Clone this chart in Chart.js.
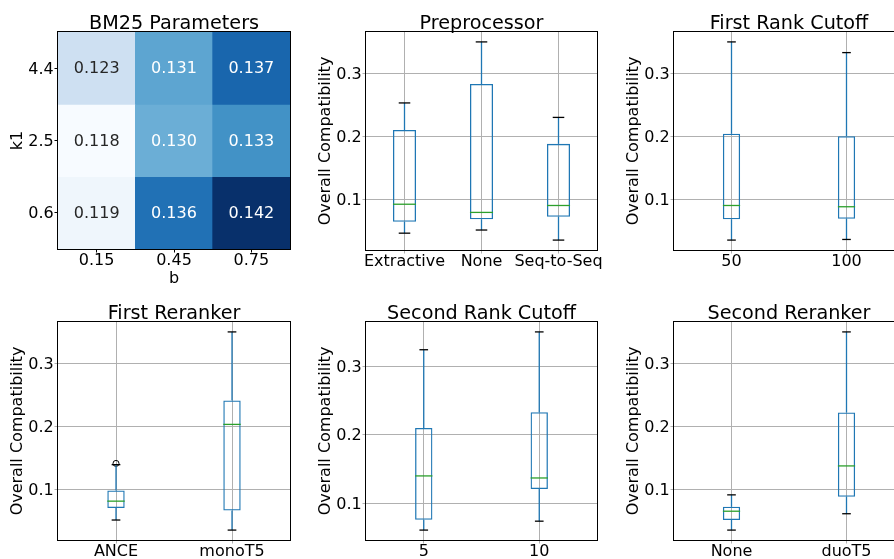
<!DOCTYPE html>
<html>
<head>
<meta charset="utf-8">
<script src="https://cdn.jsdelivr.net/npm/chart.js@4.4.0/dist/chart.umd.min.js"></script>
<style>
html, body { margin: 0; padding: 0; background: #fff; overflow: hidden; width: 894px; height: 559px; }
canvas { position: absolute; }
</style>
</head>
<body>
<script>
/* datos */

const bValues = ['0.15', '0.45', '0.75'];
const k1Values = ['4.4', '2.5', '0.6'];
const bm25Scores = [
    [0.123, 0.131, 0.137],
    [0.118, 0.130, 0.133],
    [0.119, 0.136, 0.142]
];

// each box: [low whisker, q1, median, q3, high whisker]
const prepLabels = ['Extractive', 'None', 'Seq-to-Seq'];
const prepStats = [
    [0.046, 0.064, 0.092, 0.210, 0.253],
    [0.051, 0.068, 0.079, 0.283, 0.350],
    [0.035, 0.072, 0.090, 0.188, 0.230]
];

const rank1Labels = ['50', '100'];
const rank1Stats = [
    [0.035, 0.068, 0.090, 0.204, 0.350],
    [0.036, 0.069, 0.088, 0.200, 0.333]
];

const rerank1Labels = ['ANCE', 'monoT5'];
const rerank1Stats = [
    [0.051, 0.070, 0.081, 0.098, 0.139],
    [0.035, 0.066, 0.203, 0.241, 0.350]
];
const rerank1Outliers = [0.141, null];

const rank2Labels = ['5', '10'];
const rank2Stats = [
    [0.061, 0.076, 0.140, 0.210, 0.324],
    [0.074, 0.121, 0.137, 0.233, 0.350]
];

const rerank2Labels = ['None', 'duoT5'];
const rerank2Stats = [
    [0.035, 0.051, 0.065, 0.072, 0.091],
    [0.061, 0.088, 0.137, 0.222, 0.350]
];

const yTicks = [0.1, 0.2, 0.3];


/* estilos */

Chart.defaults.font.family = 'DejaVu Sans';
Chart.defaults.color = '#000';

const FS = 16;
const boxBlue = '#1f77b4';
const medGreen = '#2ca02c';
const gridGray = '#b0b0b0';

const blues = [[247,251,255],[222,235,247],[198,219,239],[158,202,225],[107,174,214],[66,146,198],[33,113,181],[8,81,156],[8,48,107]];

function bluesRGB(t) {
    t = Math.max(0, Math.min(1, t));
    const p = t * 8;
    const i = Math.min(7, Math.floor(p));
    const f = p - i;
    return blues[i].map((c, k) => Math.round(c + (blues[i + 1][k] - c) * f));
}

function luminance(rgb) {
    const lin = rgb.map(c => {
        c = c / 255;
        return c <= 0.03928 ? c / 12.92 : Math.pow((c + 0.055) / 1.055, 2.4);
    });
    return 0.2126 * lin[0] + 0.7152 * lin[1] + 0.0722 * lin[2];
}


/* plugins */

const framePlugin = {
    id: 'frame',
    afterDraw(chart) {
        const a = chart.chartArea, c = chart.ctx;
        c.save();
        c.strokeStyle = '#000';
        c.lineWidth = 1;
        c.strokeRect(Math.round(a.left) - 0.5, Math.round(a.top) - 0.5,
            Math.round(a.right - a.left) + 1, Math.round(a.bottom - a.top) + 1);
        c.restore();
    }
};

const titlePlugin = {
    id: 'panelTitle',
    afterDraw(chart, args, opts) {
        const a = chart.chartArea, c = chart.ctx;
        c.save();
        c.font = (FS * 1.2) + 'px "DejaVu Sans"';
        c.fillStyle = '#000';
        c.textAlign = 'center';
        c.textBaseline = 'alphabetic';
        c.fillText(opts.text, (a.left + a.right) / 2, a.top - 3);
        c.restore();
    }
};

const whiskerPlugin = {
    id: 'whiskers',
    afterDatasetsDraw(chart, args, opts) {
        if (!opts.stats) return;
        const y = chart.scales.y, meta = chart.getDatasetMeta(0), c = chart.ctx;
        function line(x1, y1, x2, y2, col) {
            c.strokeStyle = col;
            c.beginPath();
            c.moveTo(x1, y1);
            c.lineTo(x2, y2);
            c.stroke();
        }
        c.save();
        c.lineWidth = 1.3;
        opts.stats.forEach((s, i) => {
            const bar = meta.data[i];
            const x = bar.x, hw = bar.width / 2;
            const pMin = y.getPixelForValue(s[0]), pQ1 = y.getPixelForValue(s[1]);
            const pMed = y.getPixelForValue(s[2]), pQ3 = y.getPixelForValue(s[3]);
            const pMax = y.getPixelForValue(s[4]);
            line(x, pQ1, x, pMin, boxBlue);
            line(x, pQ3, x, pMax, boxBlue);
            line(x - hw / 2, pMin, x + hw / 2, pMin, '#000');
            line(x - hw / 2, pMax, x + hw / 2, pMax, '#000');
            line(x - hw, pMed, x + hw, pMed, medGreen);
        });
        c.restore();
    }
};

const cellTextPlugin = {
    id: 'cellText',
    afterDatasetsDraw(chart, args, opts) {
        if (!opts.scores) return;
        const c = chart.ctx;
        c.save();
        c.font = FS + 'px "DejaVu Sans"';
        c.textAlign = 'center';
        c.textBaseline = 'middle';
        opts.scores.forEach((row, r) => {
            const meta = chart.getDatasetMeta(r);
            row.forEach((v, j) => {
                const el = meta.data[j];
                const rgb = bluesRGB((v - opts.lo) / (opts.hi - opts.lo));
                c.fillStyle = luminance(rgb) > 0.408 ? '#262626' : '#fff';
                c.fillText(v.toFixed(3), el.x, (el.y + el.base) / 2 + 1);
            });
        });
        c.restore();
    }
};


/* paneles */

function makeCanvas(L, T, R, B) {
    const cv = document.createElement('canvas');
    cv.width = R - L + 72;
    cv.height = B - T + 72;
    cv.style.left = (L - 60) + 'px';
    cv.style.top = (T - 32) + 'px';
    document.body.appendChild(cv);
    return cv;
}

const baseOptions = {
    responsive: false,
    animation: false,
    devicePixelRatio: 1,
    layout: { padding: { top: 32, left: 0, right: 12, bottom: 0 } },
};

function heatmap(L, T, R, B) {
    const all = bm25Scores.flat();
    const lo = Math.min(...all), hi = Math.max(...all);
    const datasets = bm25Scores.map((row, r) => ({
        data: row.map(() => [r, r + 1]),
        backgroundColor: row.map(v => 'rgb(' + bluesRGB((v - lo) / (hi - lo)).join(',') + ')'),
        borderWidth: 0,
        barPercentage: 1,
        categoryPercentage: 1,
        grouped: false
    }));
    new Chart(makeCanvas(L, T, R, B), {
        type: 'bar',
        data: { labels: bValues, datasets: datasets },
        options: Object.assign({}, baseOptions, {
            plugins: {
                legend: { display: false },
                tooltip: { enabled: false },
                panelTitle: { text: 'BM25 Parameters' },
                cellText: { scores: bm25Scores, lo: lo, hi: hi }
            },
            scales: {
                x: {
                    afterFit: s => { s.height = 40; },
                    ticks: { font: { size: FS, lineHeight: 1 }, padding: 0.5, maxRotation: 0, autoSkip: false },
                    grid: { offset: false, drawOnChartArea: false, tickColor: '#000', tickLength: 3.5 },
                    border: { display: false },
                    title: { display: true, text: 'b', font: { size: FS }, padding: { top: 0, bottom: 0.2 } }
                },
                y: {
                    min: 0, max: 3, reverse: true,
                    afterBuildTicks: s => { s.ticks = k1Values.map((k, i) => ({ value: i + 0.5 })); },
                    afterFit: s => { s.width = 60; },
                    ticks: { font: { size: FS, lineHeight: 1 }, padding: 0.7, labelOffset: 1.5, callback: v => k1Values[Math.floor(v)] },
                    grid: { drawOnChartArea: false, tickColor: '#000', tickLength: 3.5 },
                    border: { display: false },
                    title: { display: true, text: 'k1', font: { size: FS }, padding: { top: 10.2, bottom: 0 } }
                }
            }
        }),
        plugins: [cellTextPlugin, framePlugin, titlePlugin]
    });
}

function boxplot(L, T, R, B, title, labels, stats, outliers) {
    const lows = stats.map(s => s[0]), highs = stats.map(s => s[4]);
    if (outliers) outliers.forEach(v => { if (v !== null) highs.push(v); });
    const lo = Math.min(...lows), hi = Math.max(...highs);
    const pad = (hi - lo) * 0.05;
    const widthFrac = Math.min(0.5, Math.max(0.15, 0.15 * (labels.length - 1)));

    const datasets = [{
        data: stats.map(s => [s[1], s[3]]),
        backgroundColor: 'rgba(0,0,0,0)',
        borderColor: boxBlue,
        borderWidth: 1.3,
        borderSkipped: false,
        barPercentage: widthFrac,
        categoryPercentage: 1
    }];
    if (outliers) {
        datasets.push({
            type: 'line',
            data: outliers,
            showLine: false,
            pointRadius: 3,
            pointBorderWidth: 1,
            pointBorderColor: '#000',
            pointBackgroundColor: 'rgba(0,0,0,0)'
        });
    }

    new Chart(makeCanvas(L, T, R, B), {
        type: 'bar',
        data: { labels: labels, datasets: datasets },
        options: Object.assign({}, baseOptions, {
            plugins: {
                legend: { display: false },
                tooltip: { enabled: false },
                panelTitle: { text: title },
                whiskers: { stats: stats }
            },
            scales: {
                x: {
                    afterFit: s => { s.height = 40; },
                    ticks: { font: { size: FS, lineHeight: 1 }, padding: 0.5, maxRotation: 0, autoSkip: false },
                    grid: { offset: false, color: gridGray, tickColor: gridGray, tickLength: 3.5, lineWidth: 1 },
                    border: { display: false }
                },
                y: {
                    min: lo - pad, max: hi + pad,
                    afterBuildTicks: s => { s.ticks = yTicks.map(v => ({ value: v })); },
                    afterFit: s => { s.width = 60; },
                    ticks: { font: { size: FS, lineHeight: 1 }, padding: 0.7, labelOffset: 1.5, callback: v => v.toFixed(1) },
                    grid: { color: gridGray, tickColor: gridGray, tickLength: 3.5, lineWidth: 1 },
                    border: { display: false },
                    title: { display: true, text: 'Overall Compatibility', font: { size: FS }, padding: { top: 10.7, bottom: 0 } }
                }
            }
        }),
        plugins: [whiskerPlugin, framePlugin, titlePlugin]
    });
}

heatmap(58, 32, 290, 249);
boxplot(366, 32, 597, 250, 'Preprocessor', prepLabels, prepStats);
boxplot(674, 32, 904, 250, 'First Rank Cutoff', rank1Labels, rank1Stats);
boxplot(58, 322, 290, 540, 'First Reranker', rerank1Labels, rerank1Stats, rerank1Outliers);
boxplot(366, 322, 597, 540, 'Second Rank Cutoff', rank2Labels, rank2Stats);
boxplot(674, 322, 904, 540, 'Second Reranker', rerank2Labels, rerank2Stats);
</script>
</body>
</html>
